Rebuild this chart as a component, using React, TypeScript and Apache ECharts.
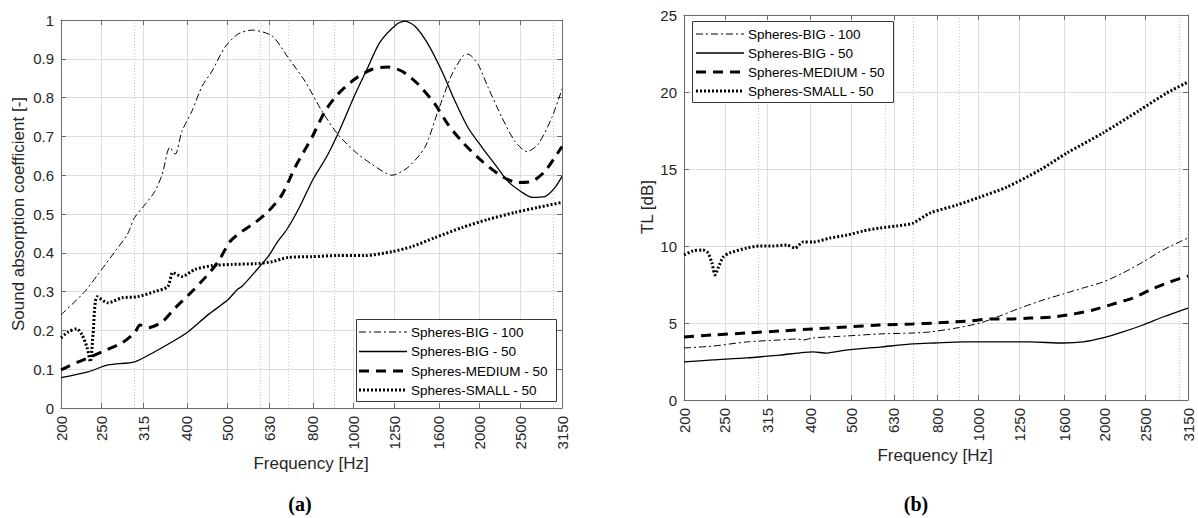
import React, { useEffect, useRef } from "react";
import * as echarts from "echarts";

// ---------- data ----------
const freqTicks = [200, 250, 315, 400, 500, 630, 800, 1000, 1250, 1600, 2000, 2500, 3150];
const minorFreqs = [300, 600, 700, 900, 3000];
const seriesNames = ["Spheres-BIG - 100", "Spheres-BIG - 50", "Spheres-MEDIUM - 50", "Spheres-SMALL - 50"];

// Panel (a): sound absorption coefficient
const absBig100Freq = [200, 228, 245, 269, 288, 300, 318, 335, 349, 364, 375, 389, 411, 435, 459, 493, 530, 572, 639, 697, 766, 841, 918, 1008, 1107, 1236, 1349, 1482, 1592, 1719, 1826, 1877, 1984, 2096, 2263, 2432, 2598, 2760, 2980, 3150];
const absBig100Val = [0.24, 0.30, 0.344, 0.403, 0.447, 0.491, 0.525, 0.558, 0.602, 0.672, 0.654, 0.713, 0.765, 0.83, 0.868, 0.93, 0.964, 0.974, 0.959, 0.904, 0.842, 0.765, 0.705, 0.661, 0.628, 0.60, 0.62, 0.672, 0.765, 0.86, 0.907, 0.912, 0.886, 0.827, 0.749, 0.687, 0.661, 0.679, 0.749, 0.822];

const absBig50Freq = [200, 232, 259, 300, 335, 368, 402, 449, 501, 527, 541, 582, 625, 660, 693, 745, 800, 864, 928, 997, 1077, 1157, 1271, 1328, 1403, 1507, 1627, 1748, 1877, 2028, 2178, 2340, 2527, 2670, 2867, 3030, 3150];
const absBig50Val = [0.078, 0.093, 0.111, 0.119, 0.145, 0.17, 0.196, 0.24, 0.279, 0.305, 0.313, 0.351, 0.39, 0.43, 0.46, 0.52, 0.589, 0.649, 0.718, 0.796, 0.873, 0.943, 0.99, 0.997, 0.984, 0.938, 0.868, 0.791, 0.723, 0.672, 0.628, 0.584, 0.556, 0.543, 0.545, 0.568, 0.597];

const absMediumFreq = [200, 220, 232, 251, 280, 300, 309, 323, 349, 375, 411, 442, 475, 507, 541, 582, 625, 675, 725, 796, 855, 918, 1008, 1107, 1209, 1306, 1426, 1566, 1682, 1816, 2028, 2263, 2472, 2670, 2867, 3150];
const absMediumVal = [0.098, 0.119, 0.129, 0.145, 0.168, 0.194, 0.214, 0.207, 0.222, 0.258, 0.30, 0.336, 0.377, 0.429, 0.455, 0.478, 0.506, 0.55, 0.62, 0.698, 0.765, 0.809, 0.848, 0.873, 0.879, 0.868, 0.835, 0.783, 0.731, 0.687, 0.636, 0.597, 0.581, 0.584, 0.61, 0.674];

const absSmallFreq = [200, 208, 218, 224.5, 231, 235, 238.5, 244, 259, 280, 305, 335, 360, 370, 389, 418, 459, 512, 582, 639, 697, 796, 918, 1066, 1236, 1380, 1566, 1816, 2096, 2432, 2760, 3150];
const absSmallVal = [0.181, 0.196, 0.204, 0.189, 0.155, 0.119, 0.189, 0.287, 0.271, 0.284, 0.287, 0.30, 0.313, 0.349, 0.339, 0.357, 0.367, 0.37, 0.372, 0.377, 0.388, 0.39, 0.393, 0.393, 0.403, 0.416, 0.439, 0.465, 0.486, 0.504, 0.517, 0.53];

// Panel (b): transmission loss
const tlBig100Freq = [200, 234, 282, 338, 371, 384, 405, 488, 584, 700, 768, 890, 1010, 1108, 1257, 1425, 1590, 1773, 1978, 2207, 2462, 2747, 3150];
const tlBig100Val = [3.38, 3.5, 3.77, 3.9, 3.96, 3.9, 4.03, 4.16, 4.29, 4.35, 4.42, 4.68, 5.0, 5.39, 5.97, 6.49, 6.88, 7.27, 7.66, 8.25, 8.96, 9.74, 10.52];

const tlBig50Freq = [200, 234, 282, 338, 405, 437, 488, 584, 700, 789, 920, 1108, 1327, 1590, 1773, 1978, 2207, 2462, 2747, 3150];
const tlBig50Val = [2.47, 2.6, 2.73, 2.92, 3.12, 3.05, 3.25, 3.44, 3.64, 3.7, 3.77, 3.77, 3.77, 3.7, 3.77, 4.03, 4.42, 4.87, 5.39, 5.97];

const tlMediumFreq = [200, 234, 282, 338, 405, 488, 584, 700, 789, 857, 956, 1066, 1190, 1327, 1505, 1679, 1873, 2089, 2331, 2558, 2807, 3150];
const tlMediumVal = [4.09, 4.22, 4.35, 4.48, 4.61, 4.74, 4.87, 4.94, 5.0, 5.06, 5.13, 5.26, 5.26, 5.32, 5.39, 5.58, 5.84, 6.23, 6.62, 7.14, 7.6, 8.05];

const tlSmallFreq = [200, 210, 222, 228, 233, 237, 241, 248, 257, 282, 303, 325, 351, 367, 384, 405, 445, 488, 532, 584, 641, 700, 768, 890, 1010, 1170, 1402, 1625, 1978, 2422, 2807, 3150];
const tlSmallVal = [9.42, 9.68, 9.74, 9.55, 8.9, 8.12, 8.57, 9.29, 9.55, 9.87, 10.0, 10.0, 10.06, 9.87, 10.26, 10.26, 10.52, 10.71, 10.97, 11.17, 11.3, 11.49, 12.14, 12.66, 13.18, 13.83, 14.94, 16.04, 17.34, 18.83, 19.94, 20.65];

// ---------- styles ----------
const FONT = "'Liberation Sans', Arial, Helvetica, sans-serif";
const AXIS_COLOR = "#6b6b6b";
const TEXT_COLOR = "#262626";
const GRID_COLOR = "#dedede";
const MINOR_COLOR = "#cccccc";
const TICK_FONT = 15;

const lineLooks = [
  { width: 1, dash: [7, 3, 2, 3] as number[] | null },
  { width: 1.3, dash: null as number[] | null },
  { width: 3, dash: [10, 7] as number[] | null },
  { width: 3, dash: [2, 2] as number[] | null },
];

const lg = (v: number) => Math.log10(v);
const pairs = (f: number[], v: number[]) => f.map((x, i) => [Math.log10(x), v[i]]);

const nearestLabel = (v: number) => {
  let best = freqTicks[0];
  for (const f of freqTicks) {
    if (Math.abs(lg(f) - v) < Math.abs(lg(best) - v)) best = f;
  }
  return String(best);
};

function makeXAxes(gridIndex: number) {
  const min = lg(200);
  const max = lg(3150);
  const major = freqTicks.map(lg);
  const minor = minorFreqs.map(lg);
  return [
    {
      type: "value", gridIndex, min, max, position: "bottom",
      axisLine: { show: true, onZero: false, lineStyle: { color: AXIS_COLOR, width: 1 } },
      axisTick: { show: true, inside: true, length: 5, customValues: major, lineStyle: { color: AXIS_COLOR } },
      axisLabel: {
        show: true, customValues: major, rotate: 90, margin: 8, fontSize: TICK_FONT,
        color: TEXT_COLOR, fontFamily: FONT, formatter: (v: number) => nearestLabel(v),
      },
      splitLine: { show: true, lineStyle: { color: GRID_COLOR, width: 1 } },
    },
    {
      type: "value", gridIndex, min, max, position: "top",
      axisLine: { show: true, onZero: false, lineStyle: { color: AXIS_COLOR, width: 1 } },
      axisTick: { show: true, inside: true, length: 5, customValues: major, lineStyle: { color: AXIS_COLOR } },
      axisLabel: { show: false },
      splitLine: { show: false },
    },
    {
      type: "value", gridIndex, min, max, position: "bottom",
      axisLine: { show: false, onZero: false },
      axisTick: { show: false, customValues: minor },
      axisLabel: { show: false, customValues: minor },
      splitLine: { show: true, lineStyle: { color: MINOR_COLOR, width: 1, type: [1, 2] } },
    },
  ];
}

function makeYAxes(gridIndex: number, max: number, interval: number) {
  return [
    {
      type: "value", gridIndex, min: 0, max, interval, position: "left",
      axisLine: { show: true, onZero: false, lineStyle: { color: AXIS_COLOR, width: 1 } },
      axisTick: { show: true, inside: true, length: 5, lineStyle: { color: AXIS_COLOR } },
      axisLabel: { show: true, margin: 7, fontSize: TICK_FONT, color: TEXT_COLOR, fontFamily: FONT },
      splitLine: { show: true, lineStyle: { color: GRID_COLOR, width: 1 } },
    },
    {
      type: "value", gridIndex, min: 0, max, interval, position: "right",
      axisLine: { show: true, onZero: false, lineStyle: { color: AXIS_COLOR, width: 1 } },
      axisTick: { show: true, inside: true, length: 5, lineStyle: { color: AXIS_COLOR } },
      axisLabel: { show: false },
      splitLine: { show: false },
    },
  ];
}

function makeSeries(xIdx: number, yIdx: number, sets: [number[], number[]][]) {
  return sets.map(([f, v], i) => ({
    name: seriesNames[i],
    type: "line",
    xAxisIndex: xIdx,
    yAxisIndex: yIdx,
    data: pairs(f, v),
    symbol: "none",
    showSymbol: false,
    smooth: 0.25,
    silent: true,
    z: 3 + i,
    lineStyle: {
      color: "#000",
      width: lineLooks[i].width,
      type: lineLooks[i].dash ?? "solid",
      cap: "butt",
    },
  }));
}

function legendGraphic(x0: number, y0: number, w: number, h: number, rows: number[], lx0: number, lx1: number, tx: number) {
  const els: any[] = [
    {
      type: "rect", z: 100,
      shape: { x: x0 + 0.5, y: y0 + 0.5, width: w, height: h },
      style: { fill: "#fff", stroke: "#3a3a3a", lineWidth: 1 },
    },
  ];
  seriesNames.forEach((name, i) => {
    const look = lineLooks[i];
    els.push({
      type: "line", z: 101,
      shape: { x1: lx0, y1: rows[i], x2: lx1, y2: rows[i] },
      style: { stroke: "#000", lineWidth: look.width, lineDash: look.dash ?? null, lineCap: "butt" },
    });
    els.push({
      type: "text", z: 101, x: tx, y: rows[i],
      style: { text: name, fontSize: 13.5, fontFamily: FONT, fill: "#000", align: "left", verticalAlign: "middle" },
    });
  });
  return els;
}

function textEl(text: string, x: number, y: number, size: number, rotation = 0, extra: any = {}) {
  return {
    type: "text", z: 100, x, y, rotation,
    style: { text, fontSize: size, fontFamily: FONT, fill: TEXT_COLOR, align: "center", verticalAlign: "middle", ...extra },
  };
}

export default function App() {
  const ref = useRef<HTMLDivElement>(null);

  useEffect(() => {
    document.body.style.margin = "0";
    if (!ref.current) return;
    const chart = echarts.init(ref.current, undefined, { renderer: "svg" });

    const option: any = {
      animation: false,
      backgroundColor: "#fff",
      textStyle: { fontFamily: FONT },
      grid: [
        { left: 61, top: 20, width: 501, height: 388, containLabel: false, outerBoundsMode: "none" },
        { left: 684, top: 15, width: 504, height: 385, containLabel: false, outerBoundsMode: "none" },
      ],
      xAxis: [...makeXAxes(0), ...makeXAxes(1)],
      yAxis: [...makeYAxes(0, 1, 0.1), ...makeYAxes(1, 25, 5)],
      series: [
        ...makeSeries(0, 0, [
          [absBig100Freq, absBig100Val],
          [absBig50Freq, absBig50Val],
          [absMediumFreq, absMediumVal],
          [absSmallFreq, absSmallVal],
        ]),
        ...makeSeries(3, 2, [
          [tlBig100Freq, tlBig100Val],
          [tlBig50Freq, tlBig50Val],
          [tlMediumFreq, tlMediumVal],
          [tlSmallFreq, tlSmallVal],
        ]),
      ],
      graphic: [
        ...legendGraphic(356, 319, 200, 82, [332, 351.5, 371, 390], 359, 407, 411),
        ...legendGraphic(692, 21, 201, 81, [34, 53, 72, 91], 696, 744, 748),
        textEl("Sound absorption coefficient [-]", 18, 214, 17, Math.PI / 2),
        textEl("Frequency [Hz]", 311, 463, 17),
        textEl("TL [dB]", 647, 207, 17, Math.PI / 2),
        textEl("Frequency [Hz]", 935, 455, 17),
        textEl("(a)", 300, 504, 20, 0, { fontFamily: "'Liberation Serif', 'DejaVu Serif', serif", fontWeight: "bold", fill: "#000" }),
        textEl("(b)", 916, 504, 20, 0, { fontFamily: "'Liberation Serif', 'DejaVu Serif', serif", fontWeight: "bold", fill: "#000" }),
      ],
    };

    chart.setOption(option);
    return () => chart.dispose();
  }, []);

  return <div ref={ref} style={{ width: 1198, height: 518 }} />;
}
